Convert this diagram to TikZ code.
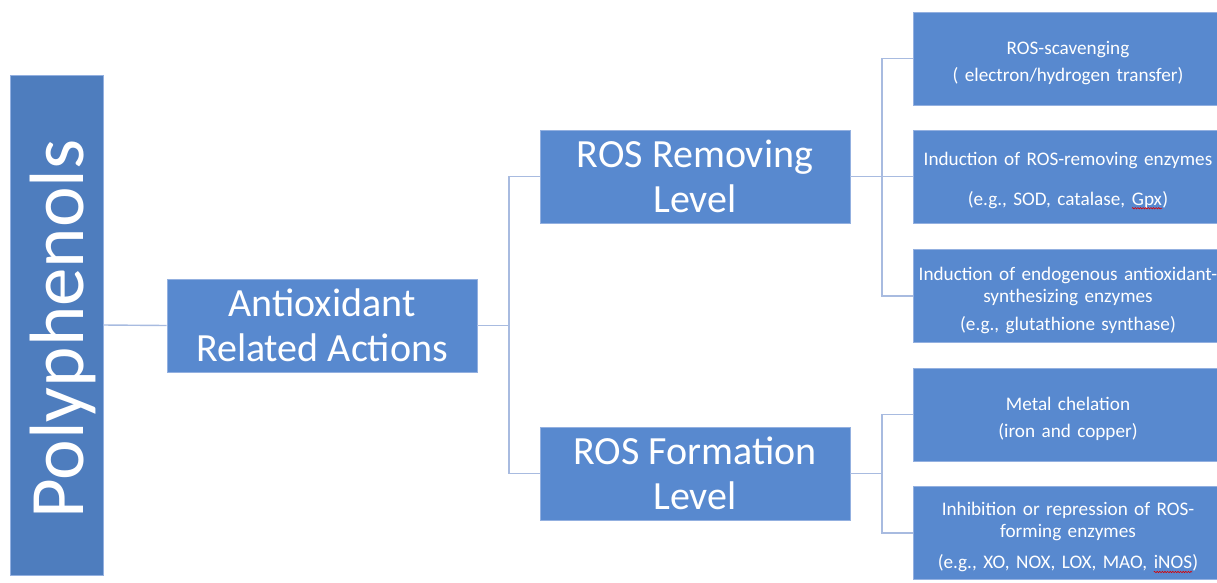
\documentclass[tikz,border=0pt]{standalone}
\usepackage{fontspec}
\setmainfont{Carlito}
\usetikzlibrary{decorations.pathmorphing}
\definecolor{boxblue}{HTML}{5889CF}
\definecolor{rootblue}{HTML}{4E7DBE}
\definecolor{linkblue}{HTML}{A8BBE0}
\definecolor{edgeblue}{HTML}{93B0E0}
% word with a thin red wavy underline
\newcommand{\spellmark}[1]{\tikz[baseline=(w.base)]{%
  \node[inner sep=0pt, outer sep=0pt, text width={}, align=none,
        minimum width=0pt, minimum height=0pt, draw=none, fill=none,
        text=white] (w) {#1};
  \draw[red!85!black, line width=0.6pt, decorate,
        decoration={snake, amplitude=0.7pt, segment length=2.6pt}]
        ([yshift=-3.2pt]w.base west) -- ([yshift=-3.2pt]w.base east);}}
\tikzset{
  box/.style={rectangle, fill=boxblue, draw=edgeblue, line width=0.6pt,
    text=white, align=center, inner sep=0pt, minimum width=310, minimum height=93},
  bigtext/.style={font=\fontsize{40}{45}\selectfont},
  smalltext/.style={font=\fontsize{19.2}{22.5}\selectfont, text width=304,
    execute at begin node={\rule{0pt}{22pt}}},
  link/.style={draw=linkblue, line width=1.4pt}
}
\begin{document}
\begin{tikzpicture}[x=1pt, y=-1pt]
  \useasboundingbox (0,0) rectangle (1217,582);
  \clip (0,0) rectangle (1217,582);

  % root
  \node[box, fill=rootblue, minimum width=93, minimum height=500,
        font=\fontsize{77}{80}\selectfont] (poly) at (56.5,325)
        {\rotatebox{90}{\raisebox{-6pt}[\height][\depth]{Polyphenols\kern8pt}}};

  % second level
  \node[box, bigtext] (anti) at (322,325.5) {Antioxidant\\Related Actions};

  % third level
  \node[box, bigtext] (rem)  at (695,176.5) {ROS Removing\\Level};
  \node[box, bigtext] (form) at (695,473.5) {ROS Formation\\Level};

  % leaves
  \node[box, smalltext] (b1) at (1068,58.5)
    {ROS-scavenging\\[5pt]( electron/hydrogen transfer)};
  \node[box, smalltext] (b2) at (1068,176.5)
    {Induction of ROS-removing enzymes\\[13pt](e.g., SOD, catalase, \spellmark{Gpx})};
  \node[box, smalltext] (b3) at (1068,296)
    {Induction of endogenous antioxidant-\\synthesizing enzymes\\[5pt](e.g., glutathione synthase)};
  \node[box, smalltext] (b4) at (1068,414.5)
    {Metal chelation\\[5pt](iron and copper)};
  \node[box, smalltext] (b5) at (1068,533)
    {Inhibition or repression of ROS-\\forming enzymes\\[5pt](e.g., XO, NOX, LOX, MAO, \spellmark{iNOS})};

  % junction points of the elbow connectors
  \coordinate (j1) at (509,325.5);
  \coordinate (j2) at (882,176.5);
  \coordinate (j3) at (882,473.5);

  % connectors
  \draw[link] (poly.east) -- (anti.west);
  \draw[link] (anti.east) -- (j1);
  \draw[link] (rem.west) -| (j1) |- (form.west);
  \draw[link] (rem.east) -- (b2.west);
  \draw[link] (b1.west) -| (j2) |- (b3.west);
  \draw[link] (form.east) -- (j3);
  \draw[link] (b4.west) -| (j3) |- (b5.west);
\end{tikzpicture}
\end{document}
